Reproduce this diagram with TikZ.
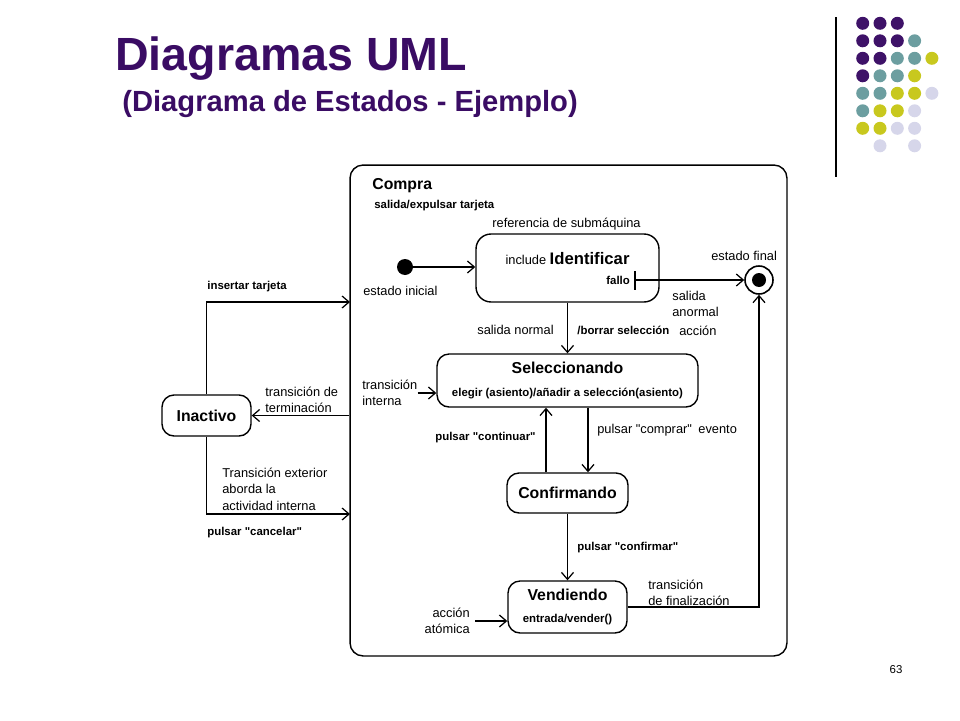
\documentclass[tikz,border=0pt]{standalone}
\usepackage{fontspec}
\setmainfont{Liberation Sans}
\usetikzlibrary{arrows.meta}

\definecolor{titlepurple}{RGB}{58,12,100}
\definecolor{dotpurple}{RGB}{62,18,104}
\definecolor{dotteal}{RGB}{108,158,160}
\definecolor{dotyellow}{RGB}{200,200,30}
\definecolor{dotlilac}{RGB}{214,214,234}

\tikzset{
  state/.style={draw, rounded corners=0.24cm, line width=0.8pt, inner sep=0pt},
  lbl/.style={font=\fontsize{7.3}{9.4}\selectfont, inner sep=0pt, align=left},
  blbl/.style={font=\fontsize{6.5}{9.4}\selectfont\bfseries, inner sep=0pt, align=left},
  sname/.style={font=\fontsize{9}{11}\selectfont\bfseries},
  trans/.style={line width=0.7pt, -{Straight Barb[length=1.4mm,width=2.4mm]}},
}

\begin{document}
\begin{tikzpicture}[x=0.02cm, y=-0.02cm]
\useasboundingbox (0,0) rectangle (960,720);

% title
\node[anchor=base west, inner sep=0, text=titlepurple, font=\fontsize{26.5}{30}\selectfont\bfseries] (title) at (115,70) {Diagramas UML};
\node[anchor=base west, inner sep=0, text=titlepurple, font=\fontsize{16.6}{20}\selectfont\bfseries] (subtitle) at (122,111) {(Diagrama de Estados - Ejemplo)};

% corner decoration
\draw[line width=0.85pt] (836,17) -- (836,177);
\foreach \c/\r/\col in {0/0/dotpurple,1/0/dotpurple,2/0/dotpurple,
  0/1/dotpurple,1/1/dotpurple,2/1/dotpurple,3/1/dotteal,
  0/2/dotpurple,1/2/dotpurple,2/2/dotteal,3/2/dotteal,4/2/dotyellow,
  0/3/dotpurple,1/3/dotteal,2/3/dotteal,3/3/dotyellow,
  0/4/dotteal,1/4/dotteal,2/4/dotyellow,3/4/dotyellow,4/4/dotlilac,
  0/5/dotteal,1/5/dotyellow,2/5/dotyellow,3/5/dotlilac,
  0/6/dotyellow,1/6/dotyellow,2/6/dotlilac,3/6/dotlilac,
  1/7/dotlilac,3/7/dotlilac}
  \fill[\col] (862.7+17.3*\c, 23.3+17.5*\r) circle (6.5);

% states
\node[state, rounded corners=0.26cm, minimum width=8.74cm, minimum height=9.82cm] (compra) at (568.5,410.5) {};
\node[anchor=west, sname, inner sep=0] (compratxt) at (372,186) {Compra};
\node[anchor=west, blbl] (salidatxt) at (374,206) {salida/expulsar tarjeta};
\node[anchor=west, lbl] (reftxt) at (492,224) {referencia de submáquina};

\node[state, rounded corners=0.3cm, minimum width=3.66cm, minimum height=1.36cm] (ident) at (567.5,268) {};
\node[lbl] (identtxt) at (567.5,259) {include \fontsize{9.5}{11}\selectfont\bfseries Identificar};
\node[anchor=west, blbl] (fallo) at (606,280) {fallo};
\coordinate (bar) at (635,280);
\draw[line width=0.7pt] (635,271) -- (635,290);

\node[circle, fill, minimum size=0.32cm, inner sep=0] (ini) at (405,267) {};
\node[anchor=west, lbl] (initxt) at (363,291) {estado inicial};

\node[circle, draw, line width=0.9pt, minimum size=0.56cm, inner sep=0] (fin) at (759,280) {};
\node[circle, fill, minimum size=0.28cm, inner sep=0] (finin) at (fin) {};
\node[anchor=west, lbl] (fintxt) at (711,256) {estado final};

\node[state, minimum width=5.22cm, minimum height=1.06cm, align=center] (selec) at (567.5,380.5)
  {\fontsize{9}{11}\selectfont\bfseries Seleccionando\\[1pt]
   \fontsize{6.5}{8}\selectfont\bfseries elegir (asiento)/añadir a selección(asiento)};
\node[state, minimum width=2.42cm, minimum height=0.8cm, sname] (conf) at (567.5,493) {Confirmando};
\node[state, minimum width=2.38cm, minimum height=1.04cm, align=center] (vend) at (567.5,607)
  {\fontsize{9}{11}\selectfont\bfseries Vendiendo\\[1pt]
   \fontsize{6.5}{8}\selectfont\bfseries entrada/vender()};
\node[state, minimum width=1.78cm, minimum height=0.82cm, sname] (inact) at (206.5,415.5) {Inactivo};

% transitions inside Compra
\draw[trans] (ini) -- (ini -| ident.west);
\draw[trans] (bar) -- (fin.west);
\draw[trans] (ident.south) -- (selec.north);
\draw[trans] ([xshift=0.41cm]selec.south) -- ([xshift=0.41cm]conf.north);
\draw[trans] ([xshift=-0.43cm]conf.north) -- ([xshift=-0.43cm]selec.south);
\draw[trans] (conf.south) -- (vend.north);
\draw[trans] (vend.east) -| (fin.south);

\node[anchor=west, lbl] (anormtxt) at (672,304) {salida\\anormal};
\node[anchor=west, lbl] (acctxt) at (679,331) {acción};
\node[anchor=west, lbl] (normtxt) at (477,330) {salida normal};
\node[anchor=west, blbl] (borrtxt) at (577,330) {/borrar selección};
\node[anchor=west, blbl] (contxt) at (435,438) {pulsar \textquotedbl continuar\textquotedbl};
\node[anchor=west, lbl] (comptxt) at (597,430) {pulsar \textquotedbl comprar\textquotedbl\enspace evento};
\node[anchor=west, blbl] (confirtxt) at (577,548) {pulsar \textquotedbl confirmar\textquotedbl};
\node[anchor=west, lbl] (finaltxt) at (648,593) {transición\\de finalización};

\node[anchor=west, lbl] (tint) at (362,393) {transición\\interna};
\draw[trans] (tint.east) -- (tint.east -| selec.west);
\node[anchor=east, lbl, align=right] (atom) at (470,621) {acción\\atómica};
\draw[trans] ([xshift=0.1cm]atom.east) -- (atom.east -| vend.west);

% transitions with Inactivo
\coordinate (entry) at (350,302);
\coordinate (cancel) at (350,514);
\draw[trans] (inact.north) |- (entry);
\draw[trans] (compra.west |- inact.east) -- (inact.east);
\draw[trans] (inact.south) |- (cancel);

\node[anchor=west, blbl] (instxt) at (207,287) {insertar tarjeta};
\node[anchor=west, lbl] (termtxt) at (265,400) {transición de\\terminación};
\node[anchor=west, lbl] (exttxt) at (222,489) {Transición exterior\\aborda la\\actividad interna};
\node[anchor=west, blbl] (canctxt) at (207,533) {pulsar \textquotedbl cancelar\textquotedbl};

\node[font=\fontsize{6.5}{8}\selectfont] (page) at (896,670) {63};
\end{tikzpicture}
\end{document}
